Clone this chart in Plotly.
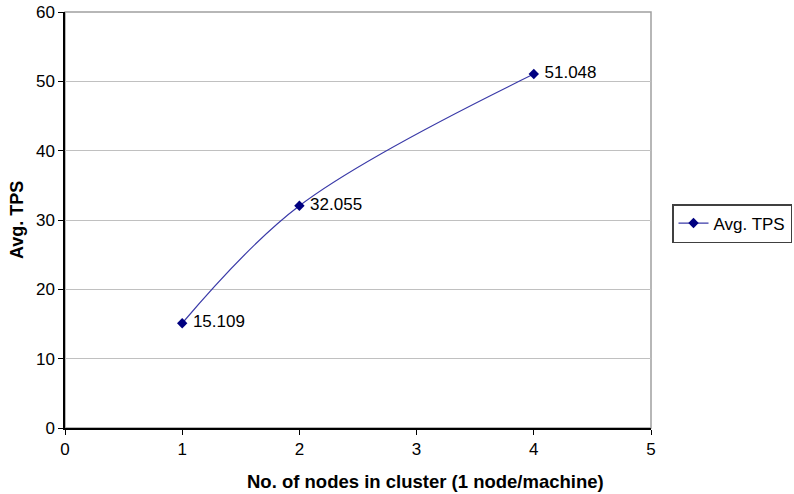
import plotly.graph_objects as go

nodes = [1, 2, 4]
avg_tps = [15.109, 32.055, 51.048]
labels = ["15.109", "32.055", "51.048"]
series_name = "Avg. TPS"
x_title = "No. of nodes in cluster (1 node/machine)"
y_title = "Avg. TPS"

W, H = 794, 494
L, T = 65, 12
PW, PH = 586, 416
R, B = W - L - PW, H - T - PH
FONT = "Liberation Sans, Arial, sans-serif"

fig = go.Figure()
fig.add_trace(go.Scatter(
    x=nodes, y=avg_tps, name=series_name,
    mode="lines+markers+text",
    line=dict(color="#3a3aa8", width=1.2, shape="spline", smoothing=1.0),
    marker=dict(symbol="diamond", size=8, color="#000080"),
    text=[" " + s for s in labels], textposition="middle right",
    textfont=dict(family=FONT, size=17, color="#000000"),
    cliponaxis=False,
))

fig.update_layout(
    template="none",
    width=W, height=H,
    margin=dict(l=L, r=R, t=T, b=B, autoexpand=False),
    paper_bgcolor="white", plot_bgcolor="white",
    font=dict(family=FONT, size=17, color="#000000"),
    showlegend=True,
    legend=dict(
        xref="container", yref="container",
        x=672 / W, y=1 - 204 / H, xanchor="left", yanchor="top",
        bordercolor="#404040", borderwidth=1.5, bgcolor="white",
        font=dict(family=FONT, size=17, color="#000000"),
        itemwidth=30, tracegroupgap=0,
    ),
    xaxis=dict(
        range=[0, 5], dtick=1, tick0=0, automargin=False,
        showgrid=False, zeroline=False,
        showline=True, linecolor="#000000", linewidth=1.5,
        ticks="outside", ticklen=5, tickcolor="#000000",
        tickfont=dict(family=FONT, size=17, color="#000000"),
    ),
    yaxis=dict(
        range=[0, 60.0001], dtick=10, tick0=0, automargin=False,
        ticklabeloverflow="allow",
        showgrid=True, gridcolor="#c0c0c0", gridwidth=1,
        zeroline=False,
        showline=True, linecolor="#000000", linewidth=1.5,
        ticks="outside", ticklen=5, tickcolor="#000000",
        tickfont=dict(family=FONT, size=17, color="#000000"),
    ),
    shapes=[
        dict(type="rect", xref="paper", yref="paper", x0=0, x1=1, y0=0, y1=1,
             line=dict(color="#a0a0a0", width=1.5), layer="below"),
    ],
    annotations=[
        dict(text="<b>" + x_title + "</b>", xref="paper", yref="paper",
             x=(425 - L) / PW, y=-(481 - (T + PH)) / PH,
             xanchor="center", yanchor="middle", showarrow=False,
             font=dict(family=FONT, size=18.5, color="#000000")),
        dict(text="<b>" + y_title + "</b>", xref="paper", yref="paper",
             x=-(L - 17) / PW, y=0.5, textangle=-90,
             xanchor="center", yanchor="middle", showarrow=False,
             font=dict(family=FONT, size=18, color="#000000")),
    ],
)

fig.write_html("out.html",
               config={"displayModeBar": False},
               post_script="document.body.style.margin='0';document.body.style.overflow='hidden';")
